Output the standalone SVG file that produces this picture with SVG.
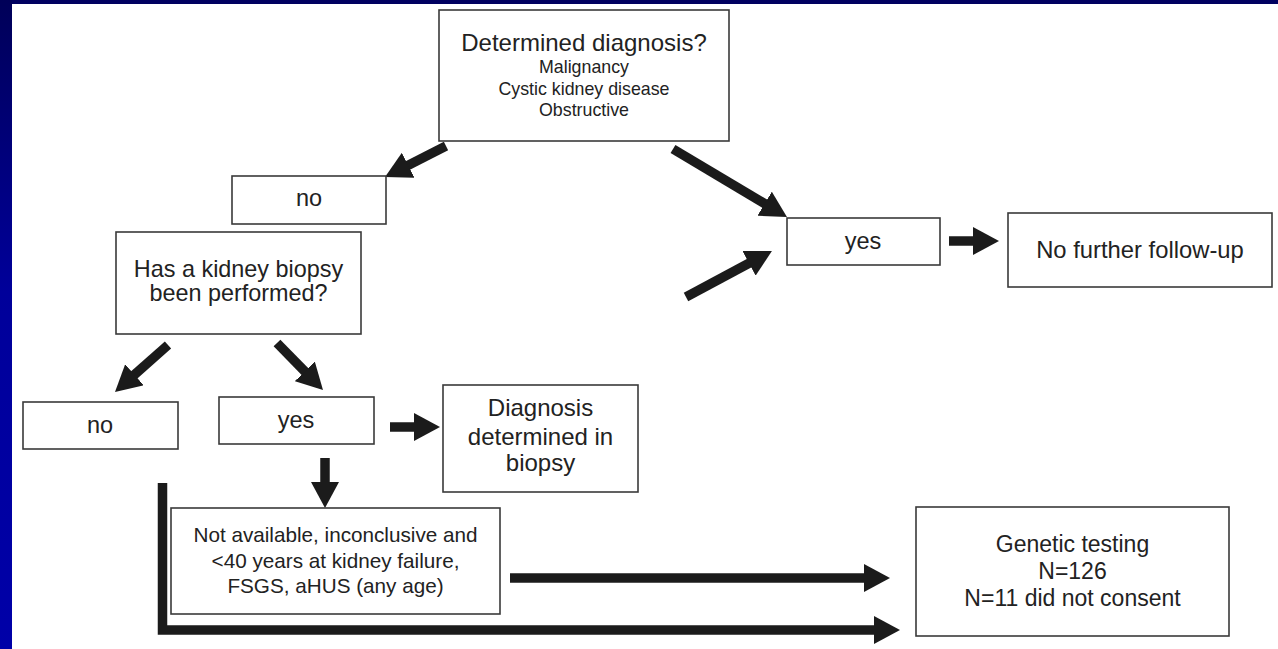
<svg xmlns="http://www.w3.org/2000/svg" width="1278" height="649" viewBox="0 0 1278 649">
  <defs>
    <linearGradient id="edge" x1="0" y1="0" x2="0" y2="1">
      <stop offset="0" stop-color="#000058"/>
      <stop offset="0.45" stop-color="#00009a"/>
      <stop offset="1" stop-color="#0000a8"/>
    </linearGradient>
    <marker id="head" viewBox="0 -14 26 28" refX="1" refY="0" markerWidth="26" markerHeight="28" markerUnits="userSpaceOnUse" orient="auto">
      <path d="M0,-14 L26,0 L0,14 z" fill="#1b1b1b"/>
    </marker>
    <style>
      .box { fill: #ffffff; stroke: #3a3a3a; stroke-width: 1.6; }
      .t { font-family: "Liberation Sans", Arial, sans-serif; fill: #222222; text-anchor: middle; }
      .arrow { fill: none; stroke: #1b1b1b; stroke-width: 9.5; marker-end: url(#head); }
    </style>
  </defs>

  <!-- slide background -->
  <rect x="0" y="0" width="1278" height="649" fill="#ffffff"/>
  <rect x="0" y="0" width="1278" height="4" fill="#000060"/>
  <rect x="0" y="0" width="12" height="649" fill="url(#edge)"/>

  <!-- connectors -->
  <g id="connectors">
    <line class="arrow" x1="446" y1="146" x2="407.3" y2="165.7"/>
    <line class="arrow" x1="673" y1="149" x2="765.5" y2="204.2"/>
    <line class="arrow" x1="686" y1="297" x2="749.9" y2="262.8"/>
    <line class="arrow" x1="949" y1="241" x2="974" y2="241"/>
    <line class="arrow" x1="168" y1="345" x2="133.7" y2="375.4"/>
    <line class="arrow" x1="277" y1="343" x2="305.5" y2="372.1"/>
    <line class="arrow" x1="390" y1="427" x2="415" y2="427"/>
    <line class="arrow" x1="325" y1="458" x2="325" y2="483"/>
    <line class="arrow" x1="510" y1="578" x2="865" y2="578"/>
    <path class="arrow" d="M162.5,483 V630 H875" stroke-linejoin="miter"/>
  </g>

  <g id="determined">
    <rect class="box" x="439" y="10" width="290" height="131"/>
    <text class="t" x="584" y="51" font-size="24">Determined diagnosis?</text>
    <text class="t" x="584" y="73" font-size="17.8">Malignancy</text>
    <text class="t" x="584" y="95" font-size="17.8">Cystic kidney disease</text>
    <text class="t" x="584" y="116" font-size="17.8">Obstructive</text>
  </g>

  <g id="no-top">
    <rect class="box" x="232" y="176" width="154" height="48"/>
    <text class="t" x="309" y="206" font-size="23.5">no</text>
  </g>

  <g id="yes-top">
    <rect class="box" x="787" y="218" width="153" height="47"/>
    <text class="t" x="863" y="249" font-size="23.5">yes</text>
  </g>

  <g id="no-follow-up">
    <rect class="box" x="1008" y="213" width="264" height="74"/>
    <text class="t" x="1140" y="258" font-size="23.8">No further follow-up</text>
  </g>

  <g id="biopsy-question">
    <rect class="box" x="116" y="232" width="245" height="102"/>
    <text class="t" x="238.5" y="277" font-size="23.4">Has a kidney biopsy</text>
    <text class="t" x="238.5" y="301" font-size="23.4">been performed?</text>
  </g>

  <g id="no-bottom">
    <rect class="box" x="23" y="402" width="155" height="47"/>
    <text class="t" x="100" y="433" font-size="23.5">no</text>
  </g>

  <g id="yes-bottom">
    <rect class="box" x="219" y="397" width="155" height="47"/>
    <text class="t" x="296" y="428" font-size="23.5">yes</text>
  </g>

  <g id="diagnosis-biopsy">
    <rect class="box" x="443" y="385" width="195" height="107"/>
    <text class="t" x="540.5" y="416" font-size="24">Diagnosis</text>
    <text class="t" x="540.5" y="445" font-size="24">determined in</text>
    <text class="t" x="540.5" y="471" font-size="24">biopsy</text>
  </g>

  <g id="inconclusive">
    <rect class="box" x="171" y="508" width="329" height="106"/>
    <text class="t" x="335.5" y="542" font-size="20.7">Not available, inconclusive and</text>
    <text class="t" x="335.5" y="568" font-size="20.7">&lt;40 years at kidney failure,</text>
    <text class="t" x="335.5" y="593" font-size="20.7">FSGS, aHUS (any age)</text>
  </g>

  <g id="genetic-testing">
    <rect class="box" x="916" y="507" width="313" height="129"/>
    <text class="t" x="1072.5" y="552" font-size="23">Genetic testing</text>
    <text class="t" x="1072.5" y="579" font-size="23">N=126</text>
    <text class="t" x="1072.5" y="606" font-size="23">N=11 did not consent</text>
  </g>
</svg>
